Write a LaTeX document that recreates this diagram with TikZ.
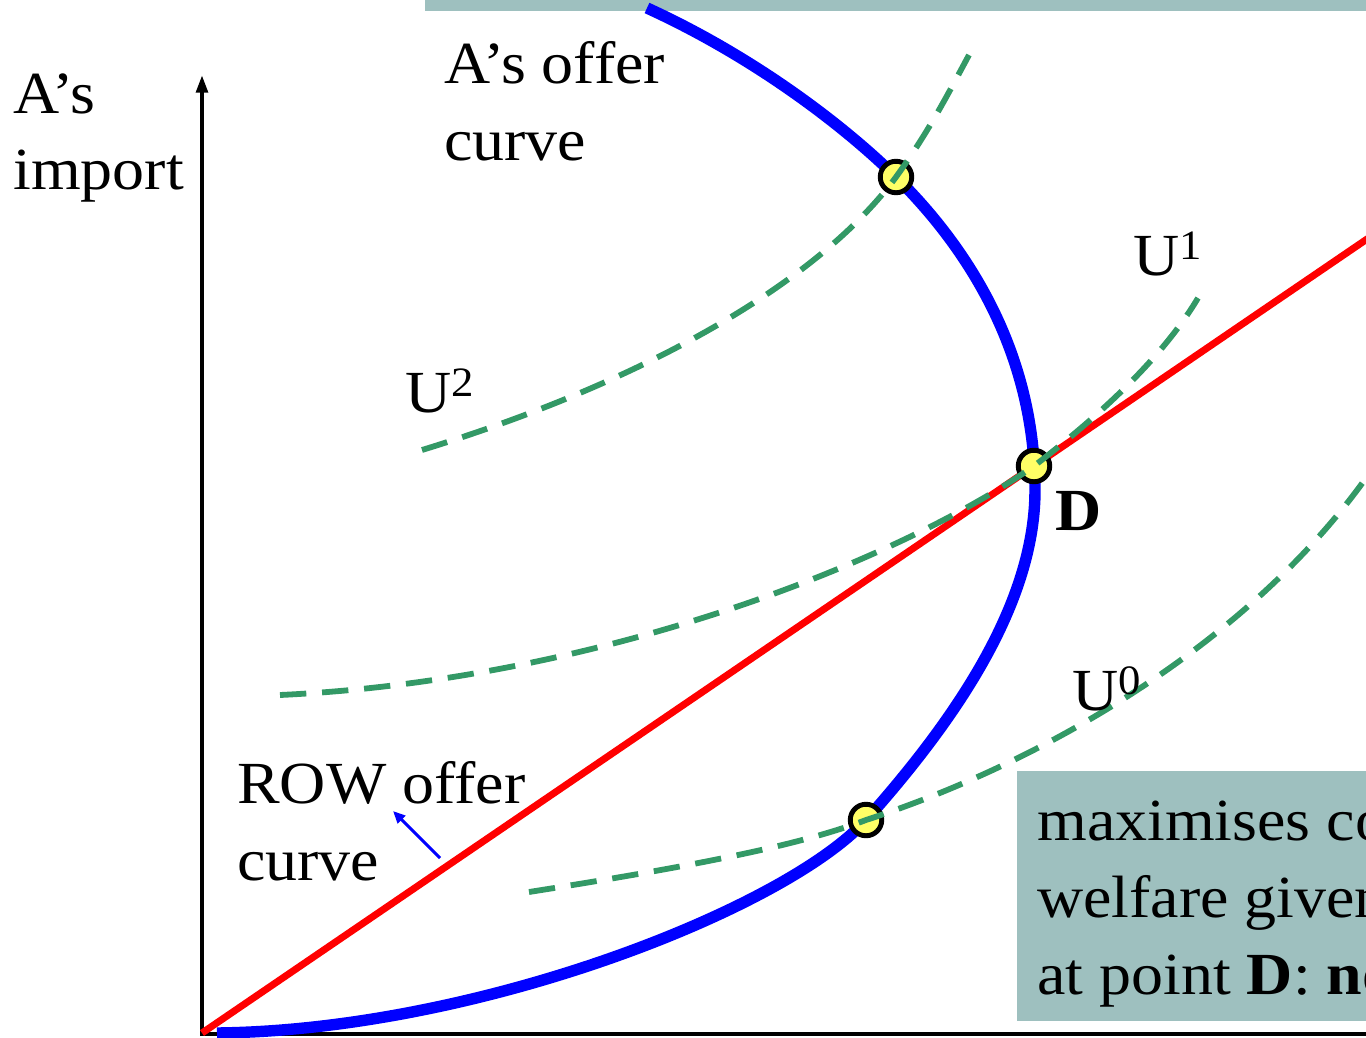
\documentclass[tikz,border=0pt]{standalone}
\usepackage{fontspec}
\setmainfont[FakeStretch=1.07]{Liberation Serif}
\usetikzlibrary{arrows.meta,calc}
\definecolor{offerblue}{RGB}{0,0,255}
\definecolor{rowred}{RGB}{255,0,0}
\definecolor{indgreen}{RGB}{51,153,102}
\definecolor{dotyellow}{RGB}{255,255,102}
\definecolor{boxteal}{RGB}{158,192,191}
\newcommand{\bigtext}{\fontsize{34}{43.6}\selectfont}
\begin{document}
\begin{tikzpicture}[x=0.02cm,y=-0.02cm,
  offer/.style={offerblue,line width=6.5pt},
  indiff/.style={indgreen,line width=3.3pt,dash pattern=on 15pt off 9pt},
  tangency/.style={circle,draw=black,fill=dotyellow,line width=2.8pt,minimum size=0.63cm,inner sep=0pt},
  lbl/.style={font=\bigtext,inner sep=0pt,align=left}]
\useasboundingbox (0,0) rectangle (1366,1038);
\clip (0,0) rectangle (1366,1038);
% text boxes
\fill[boxteal] (425,-5) rectangle (1370,11);
\fill[boxteal] (1017,771) rectangle (1370,1021);
% axes
\draw[line width=2.3pt,-{Triangle[length=10pt,width=6.5pt]}] (202,1036)--(202,75);
\draw[line width=2.6pt] (200,1034)--(1370,1034);
% points
\coordinate (Ptop) at (896,177);
\coordinate (D) at (1034,466);
\coordinate (Plow) at (866,820);
% A's offer curve
\draw[offer] (217,1033) .. controls (480,1030) and (786,908) .. (Plow)
  .. controls (946,730) and (1035,610) .. (1035,490)
  .. controls (1035,360) and (975,255) .. (Ptop)
  .. controls (840,122) and (750,55) .. (647,8);
% ROW offer curve
\draw[rowred,line width=4pt] (202,1033)--($(202,1033)!1.45!(D)$);
% tangency points
\node[tangency] (pTop) at (Ptop) {};
\node[tangency] (pD) at (D) {};
\node[tangency] (pLow) at (Plow) {};
% indifference curves
\draw[indiff] (422,450) .. controls (650,380) and (820,280) .. (Ptop)
  .. controls (930,130) and (950,90) .. (969,55);
\draw[indiff] (280,695) .. controls (600,680) and (900,560) .. (D)
  .. controls (1120,400) and (1170,345) .. (1198,298);
\draw[indiff] (529,892) .. controls (700,865) and (800,845) .. (Plow)
  .. controls (1050,760) and (1250,640) .. (1366,478);
% labels
\node[lbl,anchor=north west] (yLabel) at (13,73) {A’s\\import};
\node[lbl,anchor=north west] (aOffer) at (444,41) {A’s offer\\curve};
\node[lbl,anchor=north west] (rowOffer) at (237,761) {ROW offer\\curve};
\node[lbl,anchor=base west] (uTwo) at (405,412) {U\textsuperscript{2}};
\node[lbl,anchor=base west] (uOne) at (1133,275) {U\textsuperscript{1}};
\node[lbl,anchor=base west] (uZero) at (1072,710) {U\textsuperscript{0}};
\node[lbl,anchor=base west] (dLabel) at (1055,530) {\textbf{D}};
\node[lbl,anchor=north west] (note) at (1037,801) {maximises co\\welfare given\\at point \textbf{D}: \textbf{no}};
% pointer to ROW curve
\coordinate (rowTip) at (393,811);
\draw[offerblue,line width=1.8pt,-{Triangle[length=7pt,width=6pt]}] (440,858)--(rowTip);
\end{tikzpicture}
\end{document}
